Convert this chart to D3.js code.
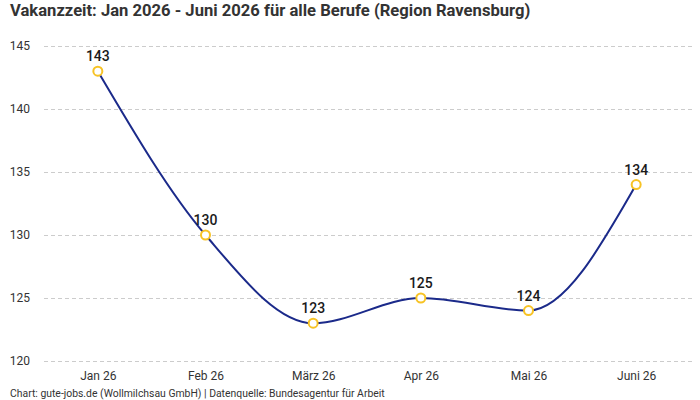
<!DOCTYPE html>
<html>
<head>
<meta charset="utf-8">
<script src="https://cdn.jsdelivr.net/npm/d3@7"></script>
<style>
  body { margin: 0; background: #fff; }
  svg { display: block; font-family: Roboto, "Noto Sans", sans-serif; }
</style>
</head>
<body>
<div id="chart"></div>
<script>
const months = ['Jan 26', 'Feb 26', 'März 26', 'Apr 26', 'Mai 26', 'Juni 26']
const vakanz = [143, 130, 123, 125, 124, 134]
const yTicks = [120, 125, 130, 135, 140, 145]

const fullWidth = 700,
  fullHeight = 400,
  margin = { top: 46, right: 10, bottom: 39, left: 44 }

const svg = d3.select('#chart')
  .append('svg')
    .attr('width', fullWidth)
    .attr('height', fullHeight)

svg.append('text')
  .attr('x', 10)
  .attr('y', 16)
  .attr('font-size', 16.6)
  .attr('font-weight', 700)
  .attr('fill', '#333')
  .text('Vakanzzeit: Jan 2026 - Juni 2026 für alle Berufe (Region Ravensburg)')

const xScale = d3.scalePoint()
  .domain(months)
  .range([margin.left, fullWidth - margin.right])
  .padding(0.5)

const yScale = d3.scaleLinear()
  .domain([120, 145])
  .range([fullHeight - margin.bottom, margin.top])

// grid
svg.append('g')
  .attr('transform', `translate(${margin.left},0)`)
  .call(d3.axisLeft(yScale).tickValues(yTicks).tickSize(-(fullWidth - margin.left - margin.right + 2)).tickPadding(14))
  .call(g => g.select('.domain').remove())
  .call(g => g.selectAll('.tick line').attr('stroke', '#ccc').attr('stroke-dasharray', '4,3'))
  .call(g => g.selectAll('.tick text').attr('font-size', 12).attr('fill', '#333').attr('font-family', 'Roboto, sans-serif'))

svg.append('g')
  .attr('transform', `translate(0,${fullHeight - margin.bottom})`)
  .call(d3.axisBottom(xScale).tickSize(0).tickPadding(10))
  .call(g => g.select('.domain').remove())
  .call(g => g.selectAll('.tick text').attr('font-size', 12).attr('fill', '#333').attr('font-family', 'Roboto, sans-serif'))

const points = months.map((m, i) => ({ m, v: vakanz[i] }))

const line = d3.line()
  .x(d => xScale(d.m))
  .y(d => yScale(d.v))
  .curve(d3.curveMonotoneX)

svg.append('path')
  .datum(points)
  .attr('fill', 'none')
  .attr('stroke', '#1b2a8a')
  .attr('stroke-width', 2)
  .attr('d', line)

svg.selectAll('.dot')
  .data(points)
  .enter()
  .append('circle')
    .attr('class', 'dot')
    .attr('r', 4.5)
    .attr('cx', d => xScale(d.m))
    .attr('cy', d => yScale(d.v))
    .attr('fill', '#fff')
    .attr('stroke', '#f7c325')
    .attr('stroke-width', 2)

svg.selectAll('.lbl')
  .data(points)
  .enter()
  .append('text')
    .attr('class', 'lbl')
    .attr('x', d => xScale(d.m))
    .attr('y', d => yScale(d.v) - 10)
    .attr('text-anchor', 'middle')
    .attr('font-size', 14)
    .attr('font-weight', 500)
    .attr('fill', '#1a1a1a')
    .text(d => d.v)

svg.append('text')
  .attr('x', 10)
  .attr('y', 397)
  .attr('font-size', 10.4)
  .attr('fill', '#333')
  .text('Chart: gute-jobs.de (Wollmilchsau GmbH) | Datenquelle: Bundesagentur für Arbeit')
</script>
</body>
</html>
